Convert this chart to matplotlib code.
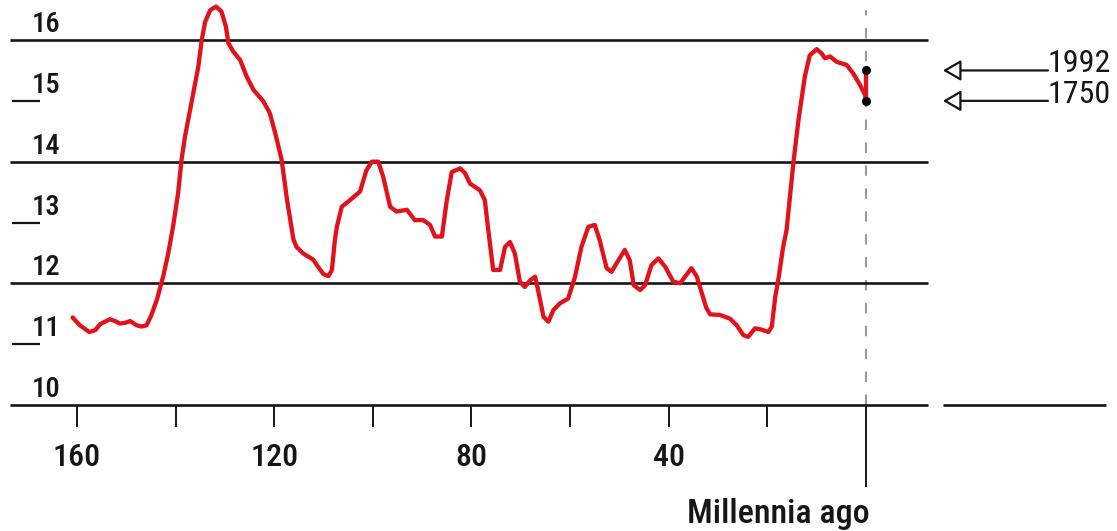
#!/usr/bin/env python3
"""Temperature over the last 160 millennia, redrawn from a print graphic."""

import matplotlib

matplotlib.use("Agg")
import matplotlib.pyplot as plt
from matplotlib import font_manager

# millennia ago / temperature
AGE = [
    160.9, 159.4, 157.5, 156.3, 155.3, 153.3, 152.3, 151.3, 150.3, 149.2,
    147.9, 146.9, 145.9, 144.9, 143.8, 142.5, 141.5, 140.5, 139.5, 138.8,
    138.1, 136.7, 135.4, 134.7, 134.0, 133.0, 131.8, 130.7, 129.8, 129.3,
    128.3, 126.9, 125.6, 124.2, 122.2, 120.9, 119.8, 118.5, 117.4, 116.1,
    115.5, 114.1, 112.1, 111.1, 110.0, 109.0, 108.3, 107.7, 107.3, 106.3,
    104.6, 102.6, 101.3, 100.2, 98.9, 97.9, 96.5, 95.2, 93.1, 91.5,
    89.8, 88.4, 87.4, 86.0, 85.0, 84.0, 82.3, 81.3, 80.3, 78.3,
    77.3, 76.6, 75.6, 74.2, 73.2, 72.2, 71.2, 70.2, 69.2, 68.1,
    67.1, 66.5, 65.4, 64.4, 63.4, 62.1, 60.4, 59.0, 57.7, 56.3,
    55.0, 54.0, 52.6, 51.6, 50.2, 48.9, 47.9, 47.1, 45.8, 44.8,
    43.5, 42.1, 40.7, 39.1, 37.7, 36.4, 35.4, 34.3, 33.3, 32.4,
    31.6, 29.6, 27.6, 26.2, 24.9, 23.9, 22.5, 21.2, 19.8, 19.1,
    18.4, 17.8, 16.8, 16.1, 14.7, 13.7, 12.4, 11.4, 10.0, 9.0,
    8.3, 7.3, 5.9, 3.9, 2.6, 1.2, 0.2, 0.0,
]
TEMP = [
    11.44, 11.31, 11.20, 11.23, 11.33, 11.41, 11.38, 11.34, 11.35, 11.38,
    11.31, 11.29, 11.31, 11.48, 11.73, 12.12, 12.49, 12.94, 13.48, 14.03,
    14.41, 15.01, 15.56, 16.00, 16.30, 16.49, 16.55, 16.47, 16.22, 15.95,
    15.81, 15.67, 15.40, 15.18, 14.99, 14.80, 14.47, 14.03, 13.37, 12.72,
    12.60, 12.49, 12.39, 12.27, 12.15, 12.12, 12.22, 12.71, 12.93, 13.26,
    13.37, 13.51, 13.86, 14.00, 14.00, 13.75, 13.26, 13.18, 13.21, 13.04,
    13.04, 12.96, 12.77, 12.77, 13.37, 13.83, 13.89, 13.81, 13.64, 13.53,
    13.37, 12.88, 12.22, 12.22, 12.60, 12.68, 12.49, 12.03, 11.94, 12.05,
    12.11, 11.89, 11.45, 11.37, 11.56, 11.67, 11.75, 12.11, 12.60, 12.93,
    12.96, 12.71, 12.25, 12.19, 12.38, 12.55, 12.38, 11.97, 11.89, 11.97,
    12.30, 12.41, 12.27, 12.03, 12.00, 12.14, 12.25, 12.11, 11.84, 11.60,
    11.49, 11.48, 11.42, 11.31, 11.15, 11.12, 11.26, 11.24, 11.20, 11.29,
    11.78, 12.05, 12.60, 12.88, 14.00, 14.68, 15.40, 15.75, 15.85, 15.78,
    15.70, 15.73, 15.64, 15.59, 15.45, 15.26, 15.10, 15.00,
]

# present-day markers
MARK_YEARS = ["1750", "1992"]
MARK_TEMP = [15.0, 15.5]

RULE_LEVELS = [10, 12, 14, 16]
DASH_LEVELS = [11, 13, 15]
X_TICKS = [160, 140, 120, 100, 80, 60, 40, 20]
X_LABELS = [160, 120, 80, 40]

RED = "#e2121b"
INK = "#161616"

CONDENSED = [
    "Liberation Sans Narrow",
    "Roboto Condensed",
    "Archivo Narrow",
    "PT Sans Narrow",
    "IBM Plex Sans Condensed",
    "Fira Sans Condensed",
    "Barlow Semi Condensed",
    "Encode Sans Condensed",
]


def _pick_font(preferred):
    available = {f.name for f in font_manager.fontManager.ttflist}
    return next((name for name in preferred if name in available), "DejaVu Sans")


def main():
    narrow = _pick_font(CONDENSED)
    txt = dict(family=narrow, weight="medium", color=INK)

    fig = plt.figure(figsize=(11.17, 5.31), dpi=100)
    ax = fig.add_axes([0, 0, 1, 1])
    ax.set_xlim(175.61, -50.90)
    ax.set_ylim(7.929, 16.658)
    ax.axis("off")

    # long horizontal rules plus the short detached piece on the right
    ax.hlines(RULE_LEVELS, 173.6, -12.6, color=INK, lw=1.9, zorder=2)
    ax.hlines(10, -15.7, -48.7, color=INK, lw=1.9, zorder=2)
    ax.hlines(DASH_LEVELS, 173.2, 167.5, color=INK, lw=1.6, zorder=2)

    for lvl in RULE_LEVELS + DASH_LEVELS:
        ax.text(169.1, lvl + 0.13, str(lvl), fontsize=20.5,
                ha="left", va="baseline", **txt)

    # x ticks hanging below the base rule
    ax.vlines(X_TICKS, 9.64, 10, color=INK, lw=1.4)
    ax.vlines(0, 8.65, 10, color=INK, lw=1.4)
    for val in X_LABELS:
        ax.text(val, 9.0, str(val), fontsize=23,
                ha="center", va="baseline", **txt)
    ax.text(-0.8, 8.06, "Millennia ago", fontsize=24.5,
            ha="right", va="baseline", **txt)

    # present day guide
    ax.vlines(0, 10, 16.49, color="#9a9a9a", lw=1.5,
              linestyles=(0, (5, 6)), zorder=1)

    ax.plot(AGE, TEMP, color=RED, lw=3.1, solid_joinstyle="round",
            solid_capstyle="round", zorder=4)
    ax.plot([0, 0], MARK_TEMP, color=RED, lw=3.1, zorder=4)
    ax.plot([0, 0], MARK_TEMP, "o", color="black", ms=5.5, zorder=5)

    for year, temp in zip(MARK_YEARS, MARK_TEMP):
        ax.annotate(
            "",
            xy=(-15.6, temp),
            xytext=(-36.9, temp),
            arrowprops=dict(
                arrowstyle="-|>,head_length=0.55,head_width=0.32",
                mutation_scale=20,
                fc="white",
                ec=INK,
                lw=1.6,
                shrinkA=0,
                shrinkB=0,
            ),
        )
        ax.text(-36.9, temp - 0.03, year, family=narrow, fontsize=23,
                ha="left", va="baseline", color=INK)

    fig.savefig("out.png", dpi=100)
    plt.close(fig)


if __name__ == "__main__":
    main()
